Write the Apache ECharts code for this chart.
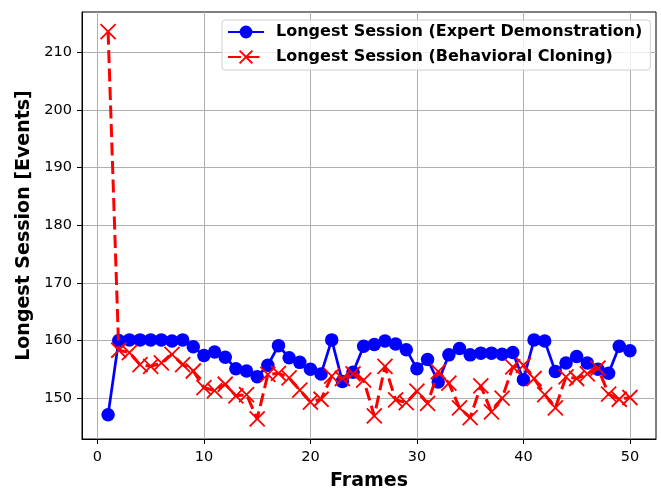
<!DOCTYPE html>
<html>
<head>
<meta charset="utf-8">
<script src="https://cdn.jsdelivr.net/npm/echarts@6/dist/echarts.min.js"></script>
<style>
  html, body { margin: 0; padding: 0; background: #fff; }
  #main { width: 661px; height: 492px; }
</style>
</head>
<body>
<div id="main"></div>
<script>
var frames = [1, 2, 3, 4, 5, 6, 7, 8, 9, 10, 11, 12, 13, 14, 15, 16, 17, 18, 19, 20,
  21, 22, 23, 24, 25, 26, 27, 28, 29, 30, 31, 32, 33, 34, 35, 36, 37, 38, 39, 40,
  41, 42, 43, 44, 45, 46, 47, 48, 49, 50];
var expert = [147.1, 160.0, 160.1, 160.1, 160.1, 160.1, 159.9, 160.1, 158.9, 157.4,
  158.0, 157.1, 155.1, 154.7, 153.7, 155.7, 159.1, 157.0, 156.2, 155.0,
  154.2, 160.1, 152.9, 154.5, 159.0, 159.3, 159.9, 159.4, 158.4, 155.1,
  156.7, 152.8, 157.5, 158.6, 157.5, 157.8, 157.8, 157.6, 157.9, 153.2,
  160.1, 159.9, 154.6, 156.1, 157.2, 156.1, 155.0, 154.3, 159.0, 158.2];
var cloning = [213.6, 158.3, 157.9, 155.8, 155.5, 156.1, 157.6, 155.8, 154.7, 151.8,
  151.3, 152.4, 150.4, 150.6, 146.4, 154.1, 154.3, 153.5, 151.4, 149.3,
  149.8, 153.8, 153.4, 154.2, 153.1, 146.9, 155.5, 149.7, 149.2, 151.2,
  149.1, 154.6, 152.6, 148.3, 146.6, 152.1, 147.6, 150.0, 155.4, 155.7,
  153.4, 150.6, 148.3, 153.7, 153.4, 154.2, 155.2, 150.7, 149.8, 150.1];
var xTicks = [0, 10, 20, 30, 40, 50];
var yTicks = [150, 160, 170, 180, 190, 200, 210];

var font = "DejaVu Sans";
var myChart = echarts.init(document.getElementById("main"));

// matplotlib-like axis: full box, outward ticks, grey grid
function axisBase(ticks, margin) {
  return {
    axisLine: { show: true, onZero: false, lineStyle: { color: "#000", width: 1 } },
    axisTick: { show: true, inside: false, length: 5, customValues: ticks, lineStyle: { color: "#000", width: 1 } },
    axisLabel: { customValues: ticks, color: "#000", fontFamily: font, fontSize: 14.5, margin: margin },
    splitLine: { show: true, lineStyle: { color: "#b0b0b0", width: 1 } }
  };
}

var xAxis = axisBase(xTicks, 11);
xAxis.type = "value";
xAxis.min = -1.45;
xAxis.max = 52.45;
xAxis.name = "Frames";
xAxis.nameLocation = "middle";
xAxis.nameGap = 33;
xAxis.nameTextStyle = { fontFamily: font, fontSize: 19, fontWeight: "bold", color: "#000" };

var yAxis = axisBase(yTicks, 10);
yAxis.type = "value";
yAxis.min = 142.9;
yAxis.max = 217.0;
yAxis.name = "Longest Session [Events]";
yAxis.nameLocation = "middle";
yAxis.nameGap = 48;
yAxis.nameTextStyle = { fontFamily: font, fontSize: 19, fontWeight: "bold", color: "#000" };

var option = {
  animation: false,
  backgroundColor: "#fff",
  grid: {
    left: 82, right: 5, top: 12, bottom: 53,
    outerBoundsMode: "none",
    show: true, borderColor: "#000", borderWidth: 1, backgroundColor: "#fff"
  },
  legend: {
    orient: "vertical",
    left: 222,
    top: 20,
    padding: [4, 8, 5, 5],
    itemGap: 9,
    itemWidth: 36,
    itemHeight: 16,
    backgroundColor: "rgba(255,255,255,0.8)",
    borderColor: "#d0d0d0",
    borderWidth: 1,
    borderRadius: 3,
    textStyle: { fontFamily: font, fontSize: 16, fontWeight: "bold", color: "#000", padding: [0, 0, 0, 7] },
    data: ["Longest Session (Expert Demonstration)", "Longest Session (Behavioral Cloning)"]
  },
  xAxis: xAxis,
  yAxis: yAxis,
  series: [
    {
      name: "Longest Session (Expert Demonstration)",
      type: "line",
      data: frames.map(function (f, i) { return [f, expert[i]]; }),
      symbol: "circle",
      symbolSize: 13.5,
      lineStyle: { color: "#0000ff", width: 2.7 },
      itemStyle: { color: "#0000ff" },
      z: 2
    },
    {
      name: "Longest Session (Behavioral Cloning)",
      type: "line",
      data: frames.map(function (f, i) { return [f, cloning[i]]; }),
      symbol: "path://M0,0L10,10M10,0L0,10",
      symbolSize: 15,
      lineStyle: { color: "#ff0000", width: 3, type: [13, 5.5] },
      itemStyle: { color: "#ff0000", borderColor: "#ff0000", borderWidth: 1.8 },
      z: 3
    }
  ]
};

option && myChart.setOption(option);
</script>
</body>
</html>
